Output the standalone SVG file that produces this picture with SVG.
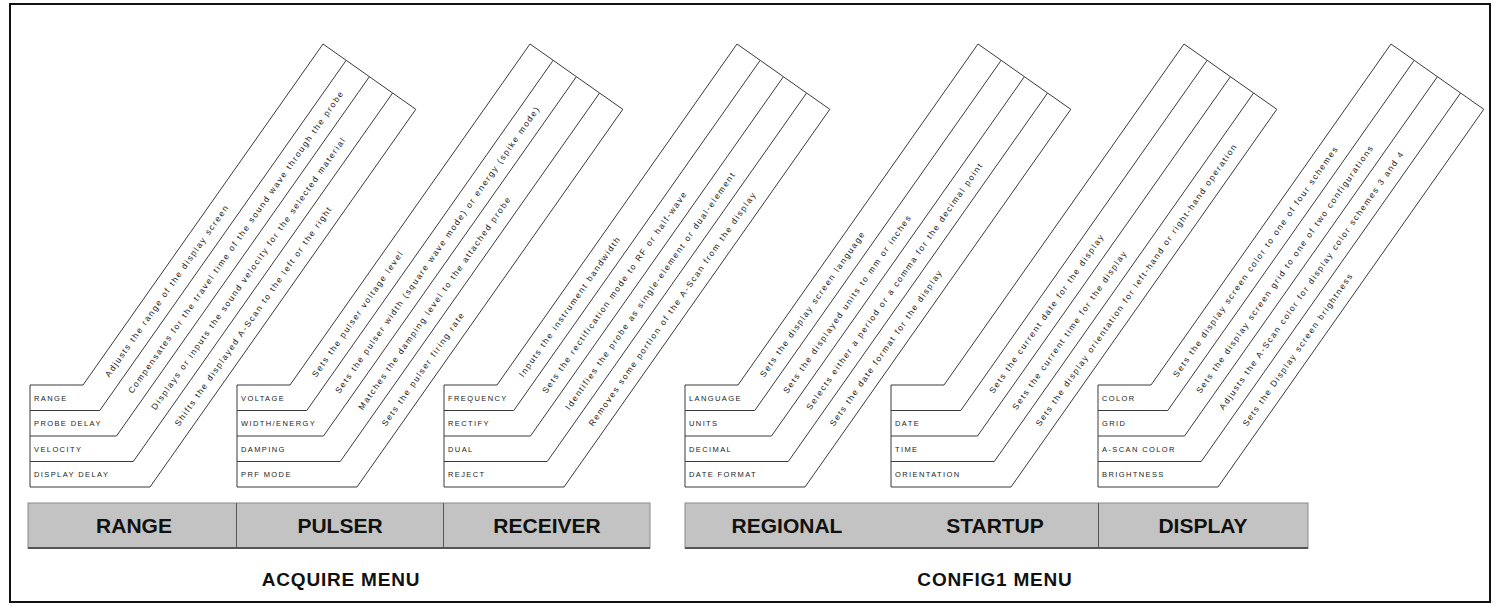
<svg xmlns="http://www.w3.org/2000/svg" xmlns:xlink="http://www.w3.org/1999/xlink" width="1499" height="613" viewBox="0 0 1499 613">
<style>
.lbl{font-family:"Liberation Sans",Arial,sans-serif;font-size:7.5px;letter-spacing:1.4px;fill:#222}
.desc{font-family:"Liberation Sans",Arial,sans-serif;font-size:8.5px;letter-spacing:1.6px;fill:#222}
.bar{fill:#c3c3c3;stroke:#8a8a8a;stroke-width:1}
.shadow{stroke:#555;stroke-width:2;fill:none}
.div{stroke:#555;stroke-width:1}
.btxt{font-family:"Liberation Sans",Arial,sans-serif;font-size:21px;font-weight:bold;fill:#111;text-anchor:middle}
.cap{font-family:"Liberation Sans",Arial,sans-serif;font-size:19px;font-weight:bold;letter-spacing:0.8px;fill:#111;text-anchor:middle}
</style>
<defs>
<g id="ribbon" fill="none" stroke="#3a3a3a" stroke-width="1">
<polyline points="0,385 0,487"/>
<polyline points="0,385 53,385 293,44"/>
<polyline points="0,410.5 69.75,410.5 316.2,60.3"/>
<polyline points="0,436 86.5,436 339.4,76.7"/>
<polyline points="0,461.5 103.25,461.5 362.6,93"/>
<polyline points="0,487 120,487 385.8,109.3"/>
<polyline points="293,44 316.2,60.3 339.4,76.7 362.6,93 385.8,109.3"/>
</g>
</defs>
<rect x="10" y="4" width="1480" height="598" fill="#fff" stroke="#111" stroke-width="2"/>

<g id="range" transform="translate(30,0)">
<use href="#ribbon"/>
<text class="lbl" x="4" y="400.5">RANGE</text>
<text class="lbl" x="4" y="426">PROBE DELAY</text>
<text class="lbl" x="4" y="451.5">VELOCITY</text>
<text class="lbl" x="4" y="477">DISPLAY DELAY</text>
<text class="desc" transform="translate(79.2,377.7) rotate(-54.86)">Adjusts the range of the display screen</text>
<text class="desc" transform="translate(102.4,394.1) rotate(-54.86)">Compensates for the travel time of the sound wave through the probe</text>
<text class="desc" transform="translate(125.6,410.4) rotate(-54.86)">Displays or inputs the sound velocity for the selected material</text>
<text class="desc" transform="translate(148.9,426.8) rotate(-54.86)">Shifts the displayed A-Scan to the left or the right</text>
</g>

<g id="pulser" transform="translate(237,0)">
<use href="#ribbon"/>
<text class="lbl" x="4" y="400.5">VOLTAGE</text>
<text class="lbl" x="4" y="426">WIDTH/ENERGY</text>
<text class="lbl" x="4" y="451.5">DAMPING</text>
<text class="lbl" x="4" y="477">PRF MODE</text>
<text class="desc" transform="translate(79.2,377.7) rotate(-54.86)">Sets the pulser voltage level</text>
<text class="desc" transform="translate(102.4,394.1) rotate(-54.86)">Sets the pulser width (square wave mode) or energy (spike mode)</text>
<text class="desc" transform="translate(125.6,410.4) rotate(-54.86)">Matches the damping level to the attached probe</text>
<text class="desc" transform="translate(148.9,426.8) rotate(-54.86)">Sets the pulser firing rate</text>
</g>

<g id="receiver" transform="translate(444,0)">
<use href="#ribbon"/>
<text class="lbl" x="4" y="400.5">FREQUENCY</text>
<text class="lbl" x="4" y="426">RECTIFY</text>
<text class="lbl" x="4" y="451.5">DUAL</text>
<text class="lbl" x="4" y="477">REJECT</text>
<text class="desc" transform="translate(79.2,377.7) rotate(-54.86)">Inputs the instrument bandwidth</text>
<text class="desc" transform="translate(102.4,394.1) rotate(-54.86)">Sets the rectification mode to RF or half-wave</text>
<text class="desc" transform="translate(125.6,410.4) rotate(-54.86)">Identifies the probe as single-element or dual-element</text>
<text class="desc" transform="translate(148.9,426.8) rotate(-54.86)">Removes some portion of the A-Scan from the display</text>
</g>

<g id="regional" transform="translate(685,0)">
<use href="#ribbon"/>
<text class="lbl" x="4" y="400.5">LANGUAGE</text>
<text class="lbl" x="4" y="426">UNITS</text>
<text class="lbl" x="4" y="451.5">DECIMAL</text>
<text class="lbl" x="4" y="477">DATE FORMAT</text>
<text class="desc" transform="translate(79.2,377.7) rotate(-54.86)">Sets the display screen language</text>
<text class="desc" transform="translate(102.4,394.1) rotate(-54.86)">Sets the displayed units to mm or inches</text>
<text class="desc" transform="translate(125.6,410.4) rotate(-54.86)">Selects either a period or a comma for the decimal point</text>
<text class="desc" transform="translate(148.9,426.8) rotate(-54.86)">Sets the date format for the display</text>
</g>

<g id="startup" transform="translate(891,0)">
<use href="#ribbon"/>
<text class="lbl" x="4" y="426">DATE</text>
<text class="lbl" x="4" y="451.5">TIME</text>
<text class="lbl" x="4" y="477">ORIENTATION</text>
<text class="desc" transform="translate(102.4,394.1) rotate(-54.86)">Sets the current date for the display</text>
<text class="desc" transform="translate(125.6,410.4) rotate(-54.86)">Sets the current time for the display</text>
<text class="desc" transform="translate(148.9,426.8) rotate(-54.86)">Sets the display orientation for left-hand or right-hand operation</text>
</g>

<g id="display" transform="translate(1098,0)">
<use href="#ribbon"/>
<text class="lbl" x="4" y="400.5">COLOR</text>
<text class="lbl" x="4" y="426">GRID</text>
<text class="lbl" x="4" y="451.5">A-SCAN COLOR</text>
<text class="lbl" x="4" y="477">BRIGHTNESS</text>
<text class="desc" transform="translate(79.2,377.7) rotate(-54.86)">Sets the display screen color to one of four schemes</text>
<text class="desc" transform="translate(102.4,394.1) rotate(-54.86)">Sets the display screen grid to one of two configurations</text>
<text class="desc" transform="translate(125.6,410.4) rotate(-54.86)">Adjusts the A-Scan color for display color schemes 3 and 4</text>
<text class="desc" transform="translate(148.9,426.8) rotate(-54.86)">Sets the Display screen brightness</text>
</g>

<g id="acquire-menu">
<rect class="bar" x="28" y="503" width="622" height="45"/>
<line class="shadow" x1="28" y1="548" x2="650" y2="548"/>
<line class="div" x1="236.5" y1="503" x2="236.5" y2="548"/>
<line class="div" x1="443.5" y1="503" x2="443.5" y2="548"/>
<text class="btxt" x="134" y="533">RANGE</text>
<text class="btxt" x="340" y="533">PULSER</text>
<text class="btxt" x="547" y="533">RECEIVER</text>
<text class="cap" x="341" y="586">ACQUIRE MENU</text>
</g>

<g id="config1-menu">
<rect class="bar" x="685" y="503" width="623" height="45"/>
<line class="shadow" x1="685" y1="548" x2="1308" y2="548"/>
<line class="div" x1="1098.5" y1="503" x2="1098.5" y2="548"/>
<text class="btxt" x="787" y="533">REGIONAL</text>
<text class="btxt" x="995" y="533">STARTUP</text>
<text class="btxt" x="1203" y="533">DISPLAY</text>
<text class="cap" x="995" y="586">CONFIG1 MENU</text>
</g>
</svg>
